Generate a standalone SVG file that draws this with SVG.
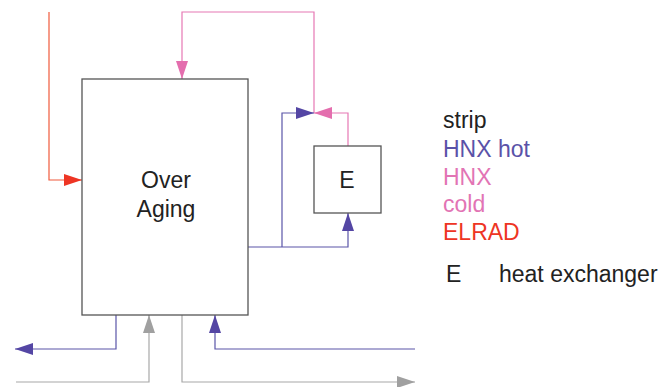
<svg xmlns="http://www.w3.org/2000/svg" width="660" height="387" viewBox="0 0 660 387">
<style>
.box{fill:#fff;stroke:#555;stroke-width:1.3}
.ln{fill:none;stroke-width:1.2}
.red{stroke:#f05a3c}
.blue{stroke:#5a55a8}
.pink{stroke:#e678b4}
.gray{stroke:#a8a8a8}
text{font-family:"Liberation Sans",Arial,sans-serif;font-size:23px}
</style>
<defs>
<marker id="ar" viewBox="0 0 18 12" refX="18" refY="6" markerWidth="18" markerHeight="12" markerUnits="userSpaceOnUse" orient="auto"><path d="M0,0 L18,6 L0,12 Z" fill="#ee3524"/></marker>
<marker id="ab" viewBox="0 0 18 12" refX="18" refY="6" markerWidth="18" markerHeight="12" markerUnits="userSpaceOnUse" orient="auto"><path d="M0,0 L18,6 L0,12 Z" fill="#5446a4"/></marker>
<marker id="ap" viewBox="0 0 18 12" refX="18" refY="6" markerWidth="18" markerHeight="12" markerUnits="userSpaceOnUse" orient="auto"><path d="M0,0 L18,6 L0,12 Z" fill="#e46eae"/></marker>
<marker id="ag" viewBox="0 0 18 12" refX="18" refY="6" markerWidth="18" markerHeight="12" markerUnits="userSpaceOnUse" orient="auto"><path d="M0,0 L18,6 L0,12 Z" fill="#a0a0a0"/></marker>
</defs>
<g id="connectors">
<path class="ln red" d="M49,12 V180 H82" marker-end="url(#ar)"/>
<path class="ln pink" d="M348,146 V113 H314" marker-end="url(#ap)"/>
<path class="ln pink" d="M314,113 V12 H182 V79" marker-end="url(#ap)"/>
<path class="ln blue" d="M248,247 H348 V213" marker-end="url(#ab)"/>
<path class="ln blue" d="M282,247 V113 H314" marker-end="url(#ab)"/>
<path class="ln blue" d="M116,315 V349 H15" marker-end="url(#ab)"/>
<path class="ln gray" d="M16,382 H149 V315" marker-end="url(#ag)"/>
<path class="ln gray" d="M182,315 V382 H415" marker-end="url(#ag)"/>
<path class="ln blue" d="M415,349 H215 V315" marker-end="url(#ab)"/>
</g>
<g id="overaging">
<rect class="box" x="82" y="79" width="166" height="236"/>
<text x="166" y="188" text-anchor="middle" fill="#222">Over</text>
<text x="166" y="217" text-anchor="middle" fill="#222">Aging</text>
</g>
<g id="E">
<rect class="box" x="314" y="146" width="67" height="67"/>
<text x="347" y="188" text-anchor="middle" fill="#222">E</text>
</g>
<g id="legend">
<text x="443" y="128" fill="#222">strip</text>
<text x="443" y="157" fill="#5a52a8">HNX hot</text>
<text x="443" y="185" fill="#e274b4">HNX</text>
<text x="443" y="212" fill="#e274b4">cold</text>
<text x="443" y="240" fill="#ee3524">ELRAD</text>
<text x="446" y="282" fill="#222">E</text>
<text x="499" y="282" fill="#222">heat exchanger</text>
</g>
</svg>
